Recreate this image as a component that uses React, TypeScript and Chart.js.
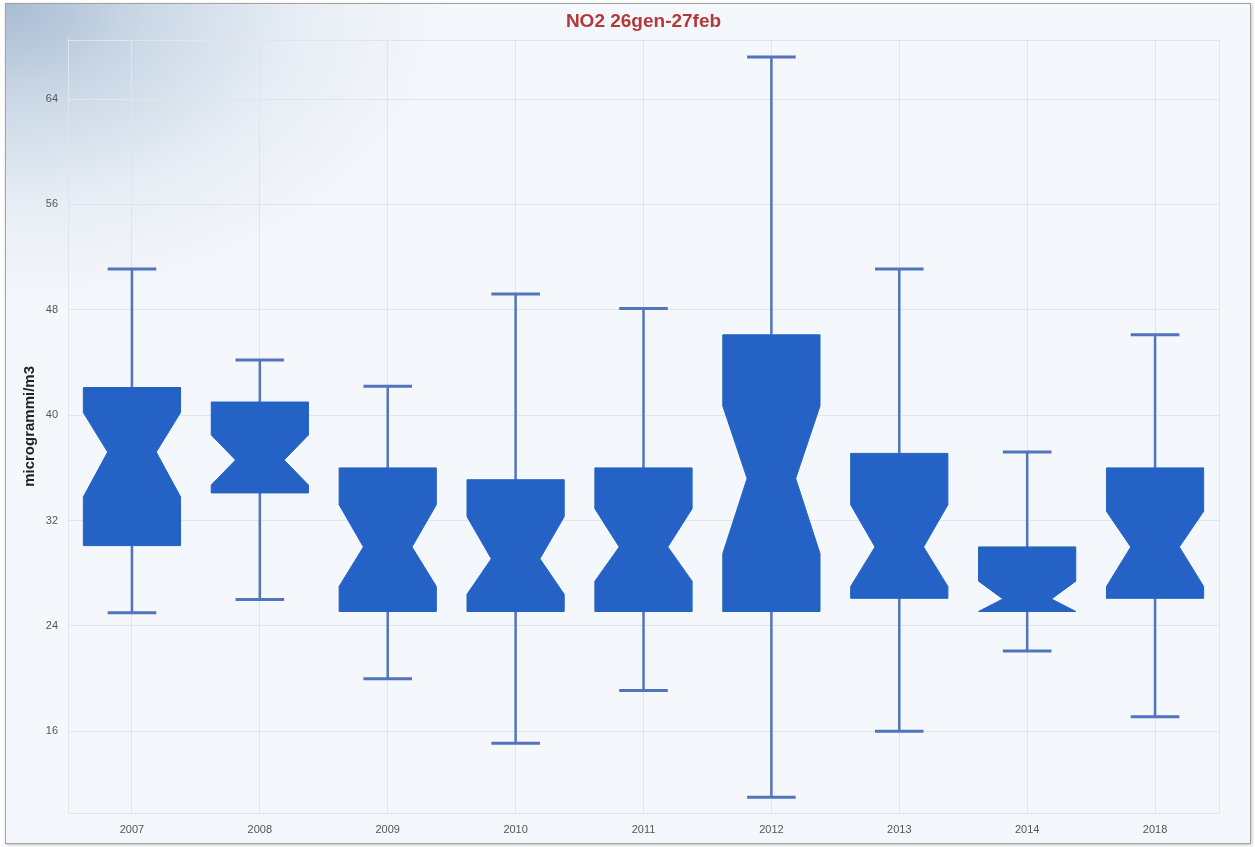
import React, { useEffect, useRef } from "react";
import { Chart, registerables } from "chart.js";

Chart.register(...registerables);

// NO2 concentrations per year, period 26 Jan - 27 Feb (µg/m3)
const years = ["2007", "2008", "2009", "2010", "2011", "2012", "2013", "2014", "2018"];
const whiskerLow = [25.0, 26.0, 20.0, 15.1, 19.1, 11.0, 16.0, 22.1, 17.1];
const quartile1 = [30.1, 34.1, 25.1, 25.1, 25.1, 25.1, 26.1, 25.1, 26.1];
const notchLow = [33.8, 34.7, 27.0, 26.4, 27.4, 29.5, 27.0, 25.1, 27.0];
const medians = [37.2, 36.6, 30.0, 29.1, 30.0, 35.2, 30.0, 26.05, 30.0];
const notchHigh = [40.2, 38.5, 33.2, 32.3, 32.9, 40.7, 33.2, 27.4, 32.7];
const quartile3 = [42.1, 41.0, 36.0, 35.1, 36.0, 46.1, 37.1, 30.0, 36.0];
const whiskerHigh = [51.1, 44.2, 42.2, 49.2, 48.1, 67.2, 51.1, 37.2, 46.1];
const yTickValues = [16, 24, 32, 40, 48, 56, 64];

const BOX_FILL = "#2462c5";
const WHISKER = "#5274c0";
const GRID = "#e0e5ec";

// Frame around the plot area (top and right edges too)
const plotFramePlugin = {
  id: "plotFrame",
  beforeDatasetsDraw(chart: any) {
    const { ctx, chartArea } = chart;
    ctx.save();
    ctx.strokeStyle = GRID;
    ctx.lineWidth = 1;
    ctx.strokeRect(
      Math.round(chartArea.left) + 0.5,
      Math.round(chartArea.top) + 0.5,
      Math.round(chartArea.right - chartArea.left),
      Math.round(chartArea.bottom - chartArea.top)
    );
    ctx.restore();
  },
};

// Draws notched box-and-whisker shapes from the value arrays using the chart scales
const notchedBoxPlugin = {
  id: "notchedBoxes",
  afterDatasetsDraw(chart: any) {
    const { ctx, scales } = chart;
    const xs = scales.x;
    const ys = scales.y;
    const slot = xs.width / years.length;
    const boxW = slot * 0.76;
    ctx.save();
    years.forEach((_, i) => {
      const cx = xs.getPixelForValue(i);
      const left = cx - boxW / 2;
      const right = cx + boxW / 2;
      const capL = cx - boxW / 4;
      const capR = cx + boxW / 4;
      const py = (v: number) => ys.getPixelForValue(v);

      // whiskers
      ctx.strokeStyle = WHISKER;
      ctx.lineWidth = 2.5;
      ctx.beginPath();
      ctx.moveTo(cx, py(quartile3[i]));
      ctx.lineTo(cx, py(whiskerHigh[i]));
      ctx.moveTo(cx, py(quartile1[i]));
      ctx.lineTo(cx, py(whiskerLow[i]));
      ctx.stroke();
      ctx.lineWidth = 3;
      ctx.beginPath();
      ctx.moveTo(capL, py(whiskerHigh[i]));
      ctx.lineTo(capR, py(whiskerHigh[i]));
      ctx.moveTo(capL, py(whiskerLow[i]));
      ctx.lineTo(capR, py(whiskerLow[i]));
      ctx.stroke();

      // notched box
      ctx.fillStyle = BOX_FILL;
      ctx.strokeStyle = BOX_FILL;
      ctx.lineWidth = 1;
      ctx.beginPath();
      ctx.moveTo(left, py(quartile1[i]));
      ctx.lineTo(right, py(quartile1[i]));
      ctx.lineTo(right, py(notchLow[i]));
      ctx.lineTo(capR, py(medians[i]));
      ctx.lineTo(right, py(notchHigh[i]));
      ctx.lineTo(right, py(quartile3[i]));
      ctx.lineTo(left, py(quartile3[i]));
      ctx.lineTo(left, py(notchHigh[i]));
      ctx.lineTo(capL, py(medians[i]));
      ctx.lineTo(left, py(notchLow[i]));
      ctx.closePath();
      ctx.fill();
      ctx.stroke();
    });
    ctx.restore();
  },
};

export default function App() {
  const canvasRef = useRef<HTMLCanvasElement | null>(null);

  useEffect(() => {
    if (!canvasRef.current) return;
    const chart = new Chart(canvasRef.current, {
      type: "bar",
      data: {
        labels: years,
        datasets: [
          {
            label: "NO2",
            data: years.map((_, i) => [whiskerLow[i], whiskerHigh[i]]) as any,
            backgroundColor: "rgba(0,0,0,0)",
            borderWidth: 0,
          },
        ],
      },
      options: {
        animation: false,
        responsive: false,
        layout: { padding: { left: 17, right: 36, top: 10, bottom: 0 } },
        plugins: {
          legend: { display: false },
          tooltip: { enabled: false },
          title: {
            display: true,
            fullSize: false,
            text: "NO2 26gen-27feb",
            color: "#b3393b",
            font: { family: "'Liberation Sans', Arial, sans-serif", size: 19, weight: "bold" },
            padding: { top: 0, bottom: 7 },
          },
        },
        scales: {
          x: {
            type: "category",
            offset: true,
            grid: { offset: false, color: GRID, drawTicks: false },
            border: { color: GRID },
            ticks: {
              color: "#555",
              padding: 10,
              font: { family: "'Liberation Sans', Arial, sans-serif", size: 11 },
            },
            afterFit: (s: any) => {
              s.height = 34;
            },
          },
          y: {
            min: 9.8,
            max: 68.5,
            grid: { color: GRID, drawTicks: false },
            border: { color: GRID },
            afterBuildTicks: (s: any) => {
              s.ticks = yTickValues.map((v) => ({ value: v }));
            },
            ticks: {
              color: "#555",
              padding: 10,
              font: { family: "'Liberation Sans', Arial, sans-serif", size: 11 },
            },
            title: {
              display: true,
              text: "microgrammi/m3",
              color: "#222",
              font: { family: "'Liberation Sans', Arial, sans-serif", size: 15, weight: "bold" },
            },
            afterFit: (s: any) => {
              s.width = 51;
            },
          },
        },
      },
      plugins: [plotFramePlugin, notchedBoxPlugin],
    });
    return () => chart.destroy();
  }, []);

  return (
    <div style={{ position: "fixed", left: 0, top: 0, width: 1255, height: 847, background: "#fff" }}>
      <div
        style={{
          position: "absolute",
          left: 5,
          top: 3,
          width: 1244,
          height: 839,
          border: "1px solid #a3a3a3",
          boxShadow: "1px 1px 3px rgba(0,0,0,0.25)",
          background:
            "radial-gradient(ellipse 440px 300px at 0px 0px, #a9bcd2 0%, #cbd8e6 32%, #e8eef5 68%, #f4f7fb 100%), #f4f7fb",
        }}
      />
      <canvas ref={canvasRef} width={1255} height={847} style={{ position: "absolute", left: 0, top: 0 }} />
    </div>
  );
}
